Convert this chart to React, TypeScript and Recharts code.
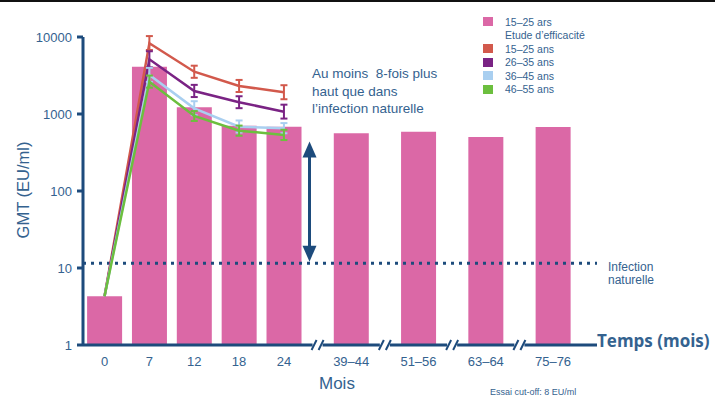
import React from 'react'
import { ComposedChart, Bar, Line, XAxis, YAxis, ErrorBar, ReferenceLine, ReferenceDot } from 'recharts'

// x position of each visit on the (broken) time axis, and its label
const xPos = [0, 1, 2, 3, 4, 5.5, 7, 8.5, 10]
const monthLabels = ['0', '7', '12', '18', '24', '39–44', '51–56', '63–64', '75–76']

// GMT (EU/ml) – 15–25 ans cohort (bars)
const gmtBars = [4.3, 4110, 1220, 705, 684, 561, 589, 503, 677]

// Etude d'efficacité, by age group (months 0–24)
const gmt1525 = [4.3, 8280, 3540, 2310, 1915]
const gmt2635 = [4.3, 5130, 1990, 1420, 1072]
const gmt3645 = [4.3, 3210, 1186, 684, 652]
const gmt4655 = [4.3, 2627, 942, 607, 534]
const err1525 = [null, [1500, 2000], [590, 700], [380, 460], [360, 450]]
const err2635 = [null, [1100, 1400], [330, 400], [230, 280], [200, 250]]
const err3645 = [null, [600, 760], [220, 280], [110, 140], [90, 110]]
const err4655 = [null, [430, 530], [130, 150], [85, 100], [75, 90]]

const yTicks = [1, 10, 100, 1000, 10000]
const breakPos = [4.75, 6.25, 7.75, 9.25]
const naturalInfection = 11.5
const arrowX = 4.57
const arrowRange = [440, 12.1]

const BLUE = '#1d4b7c'
const TEXT = '#34628f'
const PINK = '#db68a6'
const RED = '#d2594c'
const PURPLE = '#7a2384'
const LIGHTBLUE = '#a9cff0'
const GREEN = '#6cbf3e'

const data = xPos.map((x, i) => ({
  x,
  bar: gmtBars[i],
  a: gmt1525[i],
  aErr: err1525[i],
  b: gmt2635[i],
  bErr: err2635[i],
  c: gmt3645[i],
  cErr: err3645[i],
  d: gmt4655[i],
  dErr: err4655[i],
}))

const legendItems = [
  { color: PINK, label: '15–25 ars' },
  { color: null, label: 'Etude d’efficacité' },
  { color: RED, label: '15–25 ans' },
  { color: PURPLE, label: '26–35 ans' },
  { color: LIGHTBLUE, label: '36–45 ans' },
  { color: GREEN, label: '46–55 ans' },
]

const BreakMark = (props: any) => {
  const { cx, cy } = props
  return (
    <g>
      <rect x={cx - 5} y={cy - 3} width={10} height={6} fill="#fff" />
      <line x1={cx - 6} y1={cy + 5} x2={cx - 1} y2={cy - 5} stroke={BLUE} strokeWidth={2} />
      <line x1={cx + 1} y1={cy + 5} x2={cx + 6} y2={cy - 5} stroke={BLUE} strokeWidth={2} />
    </g>
  )
}

const DoubleArrow = (props: any) => {
  const { x1, y1, x2, y2 } = props
  const top = Math.min(y1, y2)
  const bottom = Math.max(y1, y2)
  return (
    <g>
      <line x1={x1} y1={top + 10} x2={x2} y2={bottom - 10} stroke={BLUE} strokeWidth={3} />
      <polygon points={`${x1},${top} ${x1 - 7},${top + 16} ${x1 + 7},${top + 16}`} fill={BLUE} />
      <polygon points={`${x1},${bottom} ${x1 - 7},${bottom - 16} ${x1 + 7},${bottom - 16}`} fill={BLUE} />
    </g>
  )
}

export default function App() {
  const font = '"Liberation Sans", Arial, sans-serif'
  return (
    <div style={{ position: 'absolute', left: 0, top: 0, width: 715, height: 400, background: '#fff', fontFamily: font, color: TEXT }}>
      <div style={{ position: 'absolute', left: 0, top: 0, width: 715, height: 2, background: '#111' }} />
      <ComposedChart
        width={715}
        height={400}
        data={data}
        margin={{ top: 37, right: 118, bottom: 25, left: 23 }}
      >
        <XAxis
          type="number"
          dataKey="x"
          domain={[-0.48, 10.98]}
          ticks={xPos}
          interval={0}
          tickFormatter={(v: number) => monthLabels[xPos.indexOf(v)] ?? ''}
          axisLine={{ stroke: BLUE, strokeWidth: 3 }}
          tickLine={false}
          tickSize={6}
          tickMargin={6}
          height={30}
          tick={{ fill: TEXT, fontSize: 13, fontFamily: font }}
        />
        <YAxis
          scale="log"
          domain={[1, 10000]}
          ticks={yTicks}
          interval={0}
          allowDataOverflow
          width={60}
          axisLine={{ stroke: BLUE, strokeWidth: 3 }}
          tickLine={{ stroke: BLUE, strokeWidth: 3 }}
          tickSize={6}
          tickMargin={5}
          tick={{ fill: TEXT, fontSize: 13, fontFamily: font }}
        />
        <Bar dataKey="bar" fill={PINK} barSize={35} isAnimationActive={false} />
        <ReferenceLine y={naturalInfection} stroke={BLUE} strokeWidth={3} strokeDasharray="3 5" />
        <ReferenceLine
          segment={[{ x: arrowX, y: arrowRange[0] }, { x: arrowX, y: arrowRange[1] }]}
          shape={DoubleArrow}
        />
        <Line dataKey="a" stroke={RED} strokeWidth={2.5} dot={false} isAnimationActive={false}>
          <ErrorBar dataKey="aErr" width={3.5} stroke={RED} strokeWidth={2} direction="y" />
        </Line>
        <Line dataKey="b" stroke={PURPLE} strokeWidth={2.5} dot={false} isAnimationActive={false}>
          <ErrorBar dataKey="bErr" width={3.5} stroke={PURPLE} strokeWidth={2} direction="y" />
        </Line>
        <Line dataKey="c" stroke={LIGHTBLUE} strokeWidth={2.5} dot={false} isAnimationActive={false}>
          <ErrorBar dataKey="cErr" width={3.5} stroke={LIGHTBLUE} strokeWidth={2} direction="y" />
        </Line>
        <Line dataKey="d" stroke={GREEN} strokeWidth={2.5} dot={false} isAnimationActive={false}>
          <ErrorBar dataKey="dErr" width={3.5} stroke={GREEN} strokeWidth={2} direction="y" />
        </Line>
        {breakPos.map((b) => (
          <ReferenceDot key={b} x={b} y={1} r={0} ifOverflow="visible" shape={BreakMark} />
        ))}
      </ComposedChart>

      {/* y axis title */}
      <div style={{ position: 'absolute', left: 23, top: 190, transform: 'translate(-50%, -50%) rotate(-90deg)', whiteSpace: 'nowrap', fontSize: 16.5 }}>
        GMT (EU/ml)
      </div>

      {/* legend */}
      <div style={{ position: 'absolute', left: 483, top: 15, fontSize: 10.5 }}>
        {legendItems.map((it) => (
          <div key={it.label} style={{ display: 'flex', alignItems: 'center', height: 13.5 }}>
            <span style={{ display: 'inline-block', width: 10, height: 9, background: it.color ?? 'transparent', marginRight: 12 }} />
            <span>{it.label}</span>
          </div>
        ))}
      </div>

      {/* annotation */}
      <div style={{ position: 'absolute', left: 312, top: 65, fontSize: 13.5, lineHeight: '17.5px', whiteSpace: 'pre' }}>
        {'Au moins  8-fois plus\nhaut que dans\nl’infection naturelle'}
      </div>

      <div style={{ position: 'absolute', left: 608, top: 261, fontSize: 12, lineHeight: '12.5px' }}>
        Infection<br />naturelle
      </div>

      <div style={{ position: 'absolute', left: 597, top: 329, fontSize: 17, fontWeight: 700, fontFamily: '"Open Sans", sans-serif', whiteSpace: 'nowrap' }}>
        Temps (mois)
      </div>

      <div style={{ position: 'absolute', left: 319, top: 374, fontSize: 17 }}>Mois</div>

      <div style={{ position: 'absolute', left: 490, top: 387, fontSize: 9, whiteSpace: 'nowrap' }}>
        Essai cut-off: 8 EU/ml
      </div>
    </div>
  )
}
